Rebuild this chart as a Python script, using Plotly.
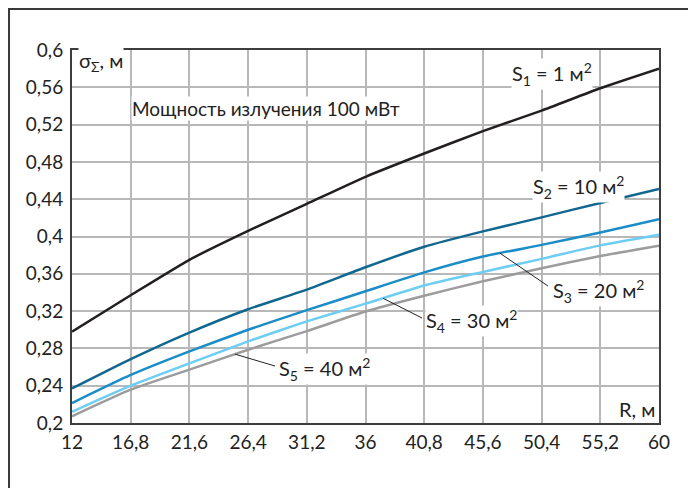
import numpy as np
import plotly.graph_objects as go

# ---- data ----
R = [12, 16.8, 21.6, 26.4, 31.2, 36, 40.8, 45.6, 50.4, 55.2, 60]
S1 = [0.298, 0.337, 0.375, 0.406, 0.435, 0.464, 0.489, 0.513, 0.535, 0.559, 0.580]
S2 = [0.237, 0.2685, 0.297, 0.322, 0.343, 0.367, 0.389, 0.4055, 0.4205, 0.436, 0.451]
S3 = [0.2214, 0.2515, 0.2768, 0.300, 0.321, 0.3413, 0.3615, 0.3785, 0.391, 0.4043, 0.4185]
S4 = [0.212, 0.240, 0.264, 0.2875, 0.309, 0.328, 0.3475, 0.362, 0.376, 0.3905, 0.402]
S5 = [0.2072, 0.2357, 0.2572, 0.2786, 0.2985, 0.3195, 0.3365, 0.352, 0.366, 0.379, 0.390]

series_names = ["S1", "S2", "S3", "S4", "S5"]
series_labels = ["S<sub>1</sub> = 1 м<sup>2</sup>", "S<sub>2</sub> = 10 м<sup>2</sup>",
                 "S<sub>3</sub> = 20 м<sup>2</sup>", "S<sub>4</sub> = 30 м<sup>2</sup>",
                 "S<sub>5</sub> = 40 м<sup>2</sup>"]
colors = ["#231f20", "#11678f", "#1a8dc8", "#6ecdf3", "#9c9c9c"]

x_tickvals = [12, 16.8, 21.6, 26.4, 31.2, 36, 40.8, 45.6, 50.4, 55.2, 60]
x_ticktext = ["12", "16,8", "21,6", "26,4", "31,2", "36", "40,8", "45,6", "50,4", "55,2", "60"]
y_tickvals = [0.2, 0.24, 0.28, 0.32, 0.36, 0.4, 0.44, 0.48, 0.52, 0.56, 0.6]
y_ticktext = ["0,2", "0,24", "0,28", "0,32", "0,36", "0,4", "0,44", "0,48", "0,52", "0,56", "0,6"]

FONT = "Lato"
TXT = "#222"
fig = go.Figure()
for name, ys, c in zip(series_names, [S1, S2, S3, S4, S5], colors):
    fig.add_trace(go.Scatter(x=R, y=ys, mode="lines", name=name,
                             line=dict(color=c, width=2.5, shape="spline", smoothing=0.5),
                             showlegend=False))

# label positions (data coords, left-anchored)
label_pos = [(47.9, 0.5745), (49.6, 0.453), (51.25, 0.3416), (40.87, 0.3094), (28.85, 0.258)]
annos = []
for (lx, ly), txt in zip(label_pos, series_labels):
    annos.append(dict(x=lx, y=ly, xref="x", yref="y", text=txt, showarrow=False,
                      xanchor="left", yanchor="middle", bgcolor="white", borderpad=0,
                      font=dict(family=FONT, size=20, color=TXT)))

# leader lines from curves to labels
leaders = [(S3, 46.99, 50.92, 0.3469), (S4, 37.43, 40.62, 0.3126), (S5, 25.33, 28.6, 0.2611)]
shapes = []
for ys, x0, x1, y1 in leaders:
    y0 = float(np.interp(x0, R, ys))
    shapes.append(dict(type="line", xref="x", yref="y", x0=x0, y0=y0, x1=x1, y1=y1,
                       line=dict(color="#222", width=1)))

annos.append(dict(x=0.0102, y=0.968, xref="paper", yref="paper",
                  text="σ<sub>Σ</sub>, м", showarrow=False, xanchor="left", yanchor="middle",
                  bgcolor="white", borderpad=0, font=dict(family=FONT, size=20, color=TXT)))
annos.append(dict(x=0.10, y=0.842, xref="paper", yref="paper",
                  text="Мощность излучения 100 мВт", showarrow=False, xanchor="left",
                  yanchor="middle", bgcolor="white", borderpad=0,
                  font=dict(family=FONT, size=19, color=TXT)))
annos.append(dict(x=0.995, y=0.0375, xref="paper", yref="paper",
                  text="R, м", showarrow=False, xanchor="right", yanchor="middle",
                  bgcolor="white", borderpad=0, font=dict(family=FONT, size=20, color=TXT)))

# outer frame (page has 8px body margin; figure is sized to compensate)
shapes.append(dict(type="rect", xref="paper", yref="paper", x0=-0.1073, x1=1.0528,
                   y0=-0.3, y1=1.1099, line=dict(color="#3a3a3a", width=2), layer="below"))

fig.update_layout(
    width=688, height=480,
    margin=dict(l=64, r=37, t=42, b=65, pad=0),
    paper_bgcolor="white", plot_bgcolor="white",
    annotations=annos, shapes=shapes,
    font=dict(family=FONT, size=19, color=TXT),
)
fig.update_xaxes(range=[12, 60], tickvals=x_tickvals, ticktext=x_ticktext,
                 showgrid=True, gridcolor="#b8b8b8", gridwidth=1.5, zeroline=False,
                 showline=True, mirror=True, linecolor="#3d3d3d", linewidth=2,
                 ticks="", ticklabelstandoff=1, tickfont=dict(family=FONT, size=19, color=TXT))
fig.update_yaxes(range=[0.2, 0.6], tickvals=y_tickvals, ticktext=y_ticktext,
                 showgrid=True, gridcolor="#b8b8b8", gridwidth=1.5, zeroline=False,
                 showline=True, mirror=True, linecolor="#3d3d3d", linewidth=2,
                 ticks="", ticklabelstandoff=3, tickfont=dict(family=FONT, size=19, color=TXT))

fig.write_html("out.html")
